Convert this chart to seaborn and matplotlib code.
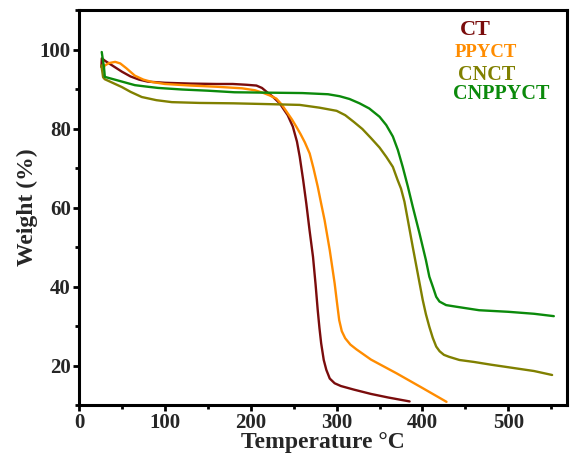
import matplotlib
matplotlib.use("Agg")
import matplotlib.pyplot as plt
from matplotlib.ticker import MultipleLocator
import pandas as pd
import seaborn as sns

# TGA curves: temperature (°C) and residual weight (%)
ct_temp = [26, 26.5, 30, 40, 50, 60, 70, 80, 100, 130, 160, 179, 195, 206.6, 213, 218, 226, 233.7,
           238, 243, 249, 253.8, 257, 261, 264.7, 268.5, 272.5, 275.5, 278, 280, 282, 285, 288,
           292, 297.7, 305, 320, 340, 360, 385]
ct_weight = [95.6, 97.8, 97.2, 95.8, 94.4, 93.2, 92.4, 91.9, 91.6, 91.4, 91.3, 91.3, 91.1, 90.9,
             90.3, 89.4, 88.0, 86.4, 85.0, 83.4, 80.5, 76.7, 72.9, 67.0, 61.0, 54.2, 47.5, 40.5,
             34.0, 29.5, 25.6, 21.4, 18.9, 16.7, 15.5, 14.8, 13.9, 12.8, 11.9, 10.9]

ppy_temp = [28, 30, 35, 42, 48, 55, 65, 75, 85, 100, 130, 160, 190, 205, 215, 222, 229.8, 236,
            242, 248, 253, 258, 263, 268.6, 273, 278, 282, 286, 292, 297.7, 300.5, 303, 306, 310,
            316, 323, 340, 370, 400, 428]
ppy_weight = [95.2, 96.0, 96.6, 96.9, 96.5, 95.3, 93.4, 92.4, 91.8, 91.3, 90.9, 90.6, 90.2, 89.7,
              89.0, 88.4, 87.6, 86.1, 84.2, 82.3, 80.5, 78.6, 76.5, 73.7, 70.0, 65.3, 61.0, 56.8,
              49.2, 40.8, 35.8, 31.5, 28.7, 26.9, 25.3, 24.1, 21.5, 18.0, 14.3, 10.8]

cnct_temp = [26, 28, 30, 40, 50, 60, 73, 90, 108, 140, 180, 220, 257, 280, 300, 310, 320, 330, 340,
             350, 358, 365.5, 371, 375, 379, 383, 388.7, 394.5, 400.3, 404, 408, 412, 416, 420,
             425, 431, 443, 460, 480, 505, 530, 551]
cnct_weight = [96.0, 93.0, 92.5, 91.5, 90.5, 89.3, 88.0, 87.2, 86.7, 86.5, 86.4, 86.2, 86.0, 85.3,
               84.5, 83.4, 81.7, 79.9, 77.6, 75.2, 72.8, 70.3, 67.0, 64.8, 61.5, 56.8, 50.0, 43.3,
               36.6, 33.0, 29.8, 27.0, 24.8, 23.6, 22.7, 22.2, 21.4, 20.9, 20.2, 19.4, 18.6, 17.6]

cnppy_temp = [26.4, 28, 29, 30, 40, 50, 65, 80, 92, 120, 150, 181, 220, 260, 290, 303.5, 315,
              326.7, 338, 350, 357.8, 365.5, 371.3, 377, 383, 388.7, 396.5, 404, 408, 412, 416,
              419.8, 427.5, 439, 466, 500, 530, 553]
cnppy_weight = [99.4, 97.0, 95.6, 93.1, 92.5, 91.9, 91.0, 90.6, 90.3, 89.9, 89.6, 89.2, 89.1,
                89.0, 88.7, 88.2, 87.5, 86.4, 85.1, 83.0, 80.9, 78.0, 74.6, 70.3, 65.3, 60.2,
                53.5, 46.7, 42.5, 40.0, 37.4, 36.2, 35.3, 34.9, 34.0, 33.6, 33.1, 32.5]

samples = ["CT", "PPYCT", "CNCT", "CNPPYCT"]
colors = ["#7a0c0c", "#ff8c00", "#808000", "#0b8a0b"]

frames = []
for name, t, w in zip(samples,
                      [ct_temp, ppy_temp, cnct_temp, cnppy_temp],
                      [ct_weight, ppy_weight, cnct_weight, cnppy_weight]):
    frames.append(pd.DataFrame({"Temperature": t, "Weight": w, "Sample": name}))
data = pd.concat(frames, ignore_index=True)

sns.set_theme(style="ticks")
plt.rcParams["font.family"] = ["Liberation Serif", "DejaVu Serif"]
plt.rcParams["font.weight"] = "bold"
plt.rcParams["lines.solid_joinstyle"] = "round"

fig = plt.figure(figsize=(5.73, 4.61), dpi=100)
ax = fig.add_axes([0.138, 0.1215, 0.851, 0.8565])

sns.lineplot(data=data, x="Temperature", y="Weight", hue="Sample", hue_order=samples,
             palette=colors, estimator=None, sort=False, linewidth=1.7, legend=False, ax=ax)

ax.set_xlim(0, 568)
ax.set_ylim(10, 110)
ax.xaxis.set_major_locator(MultipleLocator(100))
ax.xaxis.set_minor_locator(MultipleLocator(50))
ax.set_yticks([20, 40, 60, 80, 100])
ax.yaxis.set_minor_locator(MultipleLocator(10))

for side in ["left", "right", "top", "bottom"]:
    ax.spines[side].set_linewidth(2.2)
    ax.spines[side].set_color("black")
ax.tick_params(which="major", direction="out", length=4, width=2, color="black",
               labelsize=15, pad=2)
ax.tick_params(which="minor", direction="out", length=3, width=2, color="black")
for lbl in ax.get_xticklabels() + ax.get_yticklabels():
    lbl.set_fontweight("bold")

ax.set_xlabel("Temperature °C", fontsize=17, fontweight="bold", labelpad=-1)
ax.set_ylabel("Weight (%)", fontsize=17, fontweight="bold", labelpad=1)

# sample labels
ax.text(443, 104.9, "CT", color=colors[0], fontsize=16, fontweight="bold", va="center")
ax.text(438, 99.3, "PPYCT", color=colors[1], fontsize=13.5, fontweight="bold", va="center")
ax.text(441, 93.7, "CNCT", color=colors[2], fontsize=14.5, fontweight="bold", va="center")
ax.text(435, 88.7, "CNPPYCT", color=colors[3], fontsize=14.5, fontweight="bold", va="center")

fig.savefig("out.png", dpi=100)
